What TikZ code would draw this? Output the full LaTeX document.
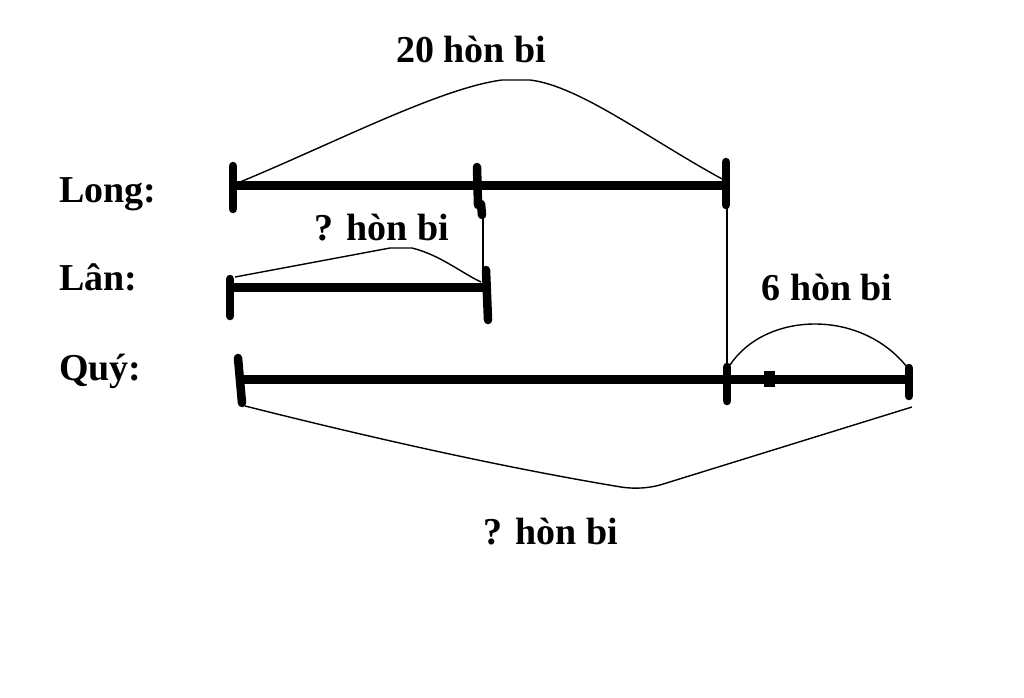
\documentclass[tikz,border=0pt]{standalone}
\usepackage{fontspec}
\setmainfont{Liberation Serif}
\begin{document}
\begin{tikzpicture}[x=1pt,y=-1pt,
  bar/.style={line width=9pt},
  tickmark/.style={line width=8.5pt, line cap=round},
  thinline/.style={line width=1.4pt},
  lbl/.style={font=\fontsize{38}{41}\selectfont\bfseries, inner sep=0pt, anchor=base},
  namelbl/.style={lbl, anchor=base west}]
\useasboundingbox[fill=white] (0,0) rectangle (1024,697);

% row labels
\node[namelbl] (long) at (59,202) {Long:};
\node[namelbl] (lan)  at (59,290) {Lân:};
\node[namelbl] (quy)  at (59,380) {Quý:};

% coordinates of bars
\coordinate (LA) at (233,185); \coordinate (LB) at (478,185); \coordinate (LC) at (726,185);
\coordinate (NA) at (230,287); \coordinate (NB) at (487,287);
\coordinate (QA) at (240,379); \coordinate (QB) at (727,379); \coordinate (QC) at (909,379);

% bars
\draw[bar] (LA) -- (LC);
\draw[bar] (NA) -- (NB);
\draw[bar] (QA) -- (QC);
\fill (764,371) rectangle (775,387);

% ticks
\draw[tickmark] (233,166) -- (233,209);
\draw[tickmark] (477,167) -- (478,205);
\draw[tickmark] (481,204) -- (482,215);
\draw[tickmark] (726,162) -- (726,205);
\draw[tickmark] (230,279) -- (230,316);
\draw[tickmark] (486,270) -- (488,320);
\draw[tickmark] (238,358) -- (242,403);
\draw[tickmark] (727,367) -- (727,401);
\draw[tickmark] (909,368) -- (909,396);

% thin connectors
\coordinate (v1a) at (483,215); \coordinate (v1b) at (483,270);
\coordinate (v2a) at (727,205); \coordinate (v2b) at (727,367);
\draw[thinline] (v1a) -- (v1b);
\draw[thinline] (v2a) -- (v2b);

% braces
\coordinate (t0) at (240,182); \coordinate (t1) at (502,80); \coordinate (t2) at (530,80); \coordinate (t3) at (724,180);
\draw[thinline] (t0) .. controls (330,145) and (440,88) .. (t1) -- (t2) .. controls (580,86) and (650,140) .. (t3);

\coordinate (n0) at (235,277); \coordinate (n1) at (390,248); \coordinate (n2) at (412,248); \coordinate (n3) at (481,282);
\draw[thinline] (n0) -- (n1) -- (n2) .. controls (440,255) and (460,272) .. (n3);

\coordinate (s0) at (730,365); \coordinate (s1) at (907,367);
\draw[thinline] (s0) .. controls (765,312) and (860,308) .. (s1);

\coordinate (b0) at (245,406); \coordinate (b1) at (615,486); \coordinate (b2) at (660,485); \coordinate (b3) at (912,407);
\draw[thinline] (b0) .. controls (400,445) and (520,470) .. (b1) .. controls (630,489) and (645,489) .. (b2) -- (b3);

% texts
\node[lbl] (t20) at (471,62) {20 hòn bi};
\node[lbl] (tlan) at (382,240) {? hòn bi};
\node[lbl] (t6) at (827,300) {6 hòn bi};
\node[lbl] (tq) at (551,544) {? hòn bi};
\end{tikzpicture}
\end{document}
